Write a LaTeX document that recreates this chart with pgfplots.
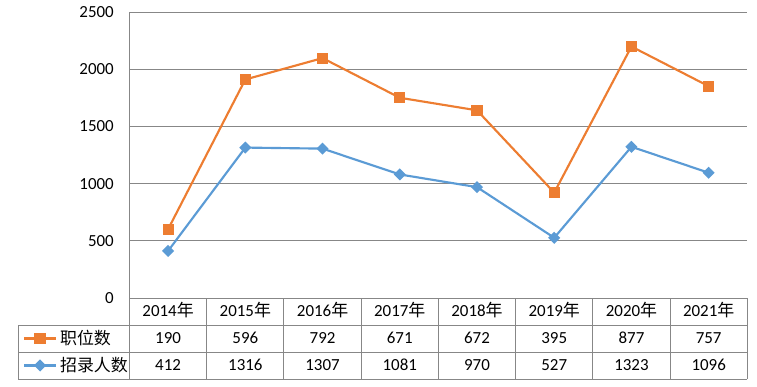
\documentclass[border=0pt]{standalone}
\usepackage{pgfplots}
\pgfplotsset{compat=1.18}
\usepackage{pgfplotstable}
\usepackage{fontspec}
\setmainfont{Carlito}
\newfontfamily\cjk{Noto Sans CJK SC}
\definecolor{xlorange}{HTML}{ED7D31}
\definecolor{xlblue}{HTML}{5B9BD5}
\definecolor{gridgray}{HTML}{878787}
\newcommand\chfont{\fontsize{12.7}{15}\selectfont}

% x = category index (2014..2021), zl = 招录人数, zw = 职位数
\pgfplotstableread{
x zl zw
0 412 190
1 1316 596
2 1307 792
3 1081 671
4 970 672
5 527 395
6 1323 877
7 1096 757
}\data

\begin{document}
\begin{tikzpicture}[font=\chfont]
\begin{axis}[
  scale only axis, width=463.35pt, height=214.3pt,
  xmin=-0.5, xmax=7.5, ymin=0, ymax=2500,
  ytick={0,500,...,2500}, xtick={0,...,7}, xticklabels={},
  stack plots=y,
  axis lines*=left,
  axis line style={gridgray, line width=0.75pt, -},
  tick style={draw=none},
  ymajorgrids,
  major grid style={gridgray, line width=0.75pt},
  /pgf/number format/assume math mode=true,
  /pgf/number format/1000 sep={},
  yticklabel style={anchor=east, inner sep=0pt, xshift=-11.6pt, font=\chfont},
  clip=false,
  reverse legend,
  legend cell align=left,
  legend style={at={(rel axis cs:0,0)}, anchor=north west, xshift=-79.9pt, yshift=-24.6pt,
    draw=none, fill=none, inner sep=0pt, outer sep=0pt, row sep=8.75pt,
    /tikz/every odd column/.append style={column sep=2.25pt},
    nodes={inner sep=0pt, text height=10pt, text depth=1.5pt, font=\chfont}},
  legend image code/.code={\draw[mark repeat=2,mark phase=2] plot coordinates {(0pt,0pt)(12pt,0pt)(24pt,0pt)};},
]
\addplot[xlblue, line width=1.6pt, mark=square*, mark size=2.4pt, mark options={rotate=45, solid}] table[x=x,y=zl]{\data};
\addlegendentry{{\cjk 招录人数}}
\addplot[xlorange, line width=1.6pt, mark=square*, mark size=3.375pt, mark options={solid}] table[x=x,y=zw]{\data};
\addlegendentry{{\cjk 职位数}}
\coordinate (O) at (rel axis cs:0,0);
\end{axis}
\begin{scope}[shift={(O)}, x=0.75pt, y=0.75pt]
  \draw[gridgray, line width=0.75pt] (-111.2,-27) -- (617.8,-27) (-111.2,-54) -- (617.8,-54)
     (-111.2,-81) -- (617.8,-81) (-111.2,-27) -- (-111.2,-81);
  \foreach \i in {0,...,8} \draw[gridgray, line width=0.75pt] (\i*77.225,0) -- (\i*77.225,-81);
  \foreach \y [count=\i from 0] in {2014,2015,2016,2017,2018,2019,2020,2021}
    \node[anchor=base, inner sep=0pt] at (38.61+77.225*\i,-18.8) {\y{\cjk 年}};
  \foreach \v [count=\i from 0] in {190,596,792,671,672,395,877,757}
    \node[anchor=base, inner sep=0pt] at (38.61+77.225*\i,-45.8) {\v};
  \foreach \v [count=\i from 0] in {412,1316,1307,1081,970,527,1323,1096}
    \node[anchor=base, inner sep=0pt] at (38.61+77.225*\i,-72.8) {\v};
  \pgfresetboundingbox
  \path[use as bounding box] (-129.5,-88) rectangle (627.5,298);
\end{scope}
\end{tikzpicture}
\end{document}
